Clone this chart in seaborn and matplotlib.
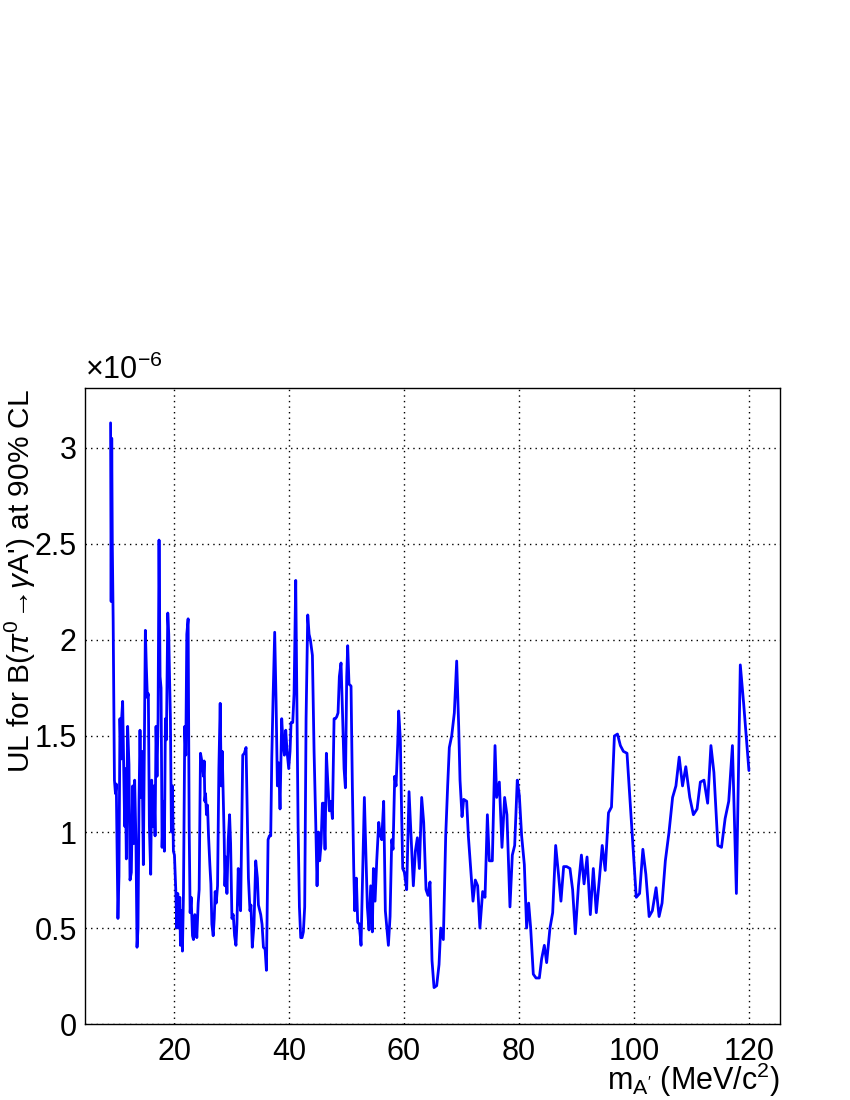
import numpy as np
import pandas as pd
import matplotlib
matplotlib.use("Agg")
import matplotlib.pyplot as plt
import seaborn as sns
from matplotlib.ticker import MultipleLocator

# ==================================================
# DATA (UL in units of 1e-6)
# ==================================================

mass = [
    8.95, 9.05, 9.15, 9.25, 9.40, 9.62, 9.80, 9.94, 10.10, 10.23,
    10.41, 10.58, 10.76, 10.87, 11.05, 11.22, 11.40, 11.51, 11.69, 11.92,
    12.15, 12.33, 12.56, 12.79, 12.97, 13.14, 13.37, 13.55, 13.72, 13.90,
    14.07, 14.24, 14.42, 14.65, 14.83, 15.00, 15.17, 15.35, 15.52, 15.70,
    15.93, 16.10, 16.28, 16.45, 16.57, 16.69, 16.86, 17.03, 17.21, 17.38,
    17.56, 17.73, 17.91, 18.14, 18.31, 18.49, 18.66, 18.90, 19.07, 19.19,
    19.36, 19.53, 19.71, 19.88, 20.06, 20.29, 20.47, 20.64, 20.81, 20.99,
    21.10, 21.28, 21.45, 21.63, 21.86, 22.03, 22.21, 22.44, 22.62, 22.79,
    22.97, 23.20, 23.37, 23.60, 23.78, 23.95, 24.19, 24.36, 24.59, 24.77,
    24.94, 25.12, 25.23, 25.35, 25.47, 25.64, 25.81, 25.99, 26.22, 26.40,
    26.57, 26.80, 26.98, 27.15, 27.33, 27.56, 27.79, 28.02, 28.20, 28.37,
    28.55, 28.72, 28.84, 29.01, 29.19, 29.42, 29.65, 29.83, 30.06, 30.29,
    30.52, 30.76, 30.93, 31.16, 31.34, 31.57, 31.74, 31.94, 32.22, 32.52,
    32.93, 33.20, 33.37, 33.60, 33.90, 34.20, 34.49, 34.67, 35.07, 35.30,
    35.54, 35.83, 36.06, 36.35, 36.58, 36.81, 36.99, 37.22, 37.50, 37.74,
    37.97, 38.20, 38.43, 38.72, 38.96, 39.19, 39.42, 39.65, 39.94, 40.17,
    40.35, 40.64, 40.87, 41.16, 41.33, 41.57, 41.80, 42.03, 42.26, 42.49,
    42.72, 42.96, 43.25, 43.48, 43.71, 44.06, 44.35, 44.64, 44.87, 45.10,
    45.33, 45.57, 45.80, 46.03, 46.26, 46.49, 46.72, 47.01, 47.25, 47.54,
    47.83, 48.06, 48.29, 48.52, 48.75, 49.04, 49.28, 49.57, 49.80, 50.03,
    50.20, 50.43, 50.78, 51.01, 51.25, 51.42, 51.71, 51.94, 52.23, 52.52,
    52.81, 53.10, 53.39, 53.62, 53.91, 54.20, 54.49, 54.67, 54.96, 55.25,
    55.60, 55.83, 56.12, 56.46, 56.75, 57.04, 57.28, 57.57, 57.86, 58.09,
    58.38, 58.61, 58.90, 59.07, 59.36, 59.53, 59.77, 60.06, 60.46, 60.87,
    61.22, 61.62, 61.97, 62.32, 62.67, 63.07, 63.42, 63.83, 64.17, 64.52,
    64.87, 65.22, 65.68, 66.09, 66.38, 66.84, 67.25, 67.59, 67.88, 68.29,
    68.75, 69.16, 69.51, 69.74, 70.09, 70.38, 70.90, 71.19, 71.60, 72.00,
    72.40, 72.81, 73.20, 73.68, 74.09, 74.50, 74.84, 75.36, 75.83, 76.12,
    76.58, 77.04, 77.50, 77.90, 78.43, 78.84, 79.25, 79.70, 80.06, 80.46,
    80.93, 81.33, 81.68, 82.03, 82.49, 82.96, 83.54, 83.94, 84.41, 84.81,
    85.39, 85.86, 86.38, 86.84, 87.30, 87.77, 88.29, 88.87, 89.33, 89.80,
    90.34, 90.86, 91.32, 91.84, 92.41, 92.93, 93.45, 93.97, 94.48, 95.00,
    95.57, 96.09, 96.60, 97.13, 97.64, 98.16, 98.79, 99.37, 99.89, 100.40,
    100.98, 101.55, 102.07, 102.64, 103.20, 103.85, 104.37, 104.89, 105.46, 106.10,
    106.72, 107.30, 107.87, 108.45, 109.02, 109.71, 110.34, 110.98, 111.55, 112.18,
    112.82, 113.39, 113.91, 114.60, 115.23, 115.86, 116.49, 117.13, 117.82, 118.50,
    119.08, 120.00,
]

ul = [
    3.13, 2.20, 3.05, 2.50, 2.10, 1.27, 1.20, 1.25, 0.85, 0.55,
    0.77, 1.59, 1.38, 1.59, 1.68, 1.38, 1.03, 1.33, 0.86, 1.55,
    1.35, 0.75, 0.79, 1.24, 0.94, 1.27, 0.94, 0.40, 0.50, 1.16,
    1.53, 1.18, 1.42, 0.83, 1.44, 2.05, 1.86, 1.70, 1.72, 1.03,
    0.78, 1.27, 1.03, 1.24, 1.16, 0.98, 1.55, 1.29, 1.59, 2.52,
    1.81, 1.75, 0.92, 1.16, 0.90, 1.59, 1.48, 2.14, 2.03, 1.83,
    1.59, 1.00, 1.24, 0.90, 0.88, 0.70, 0.50, 0.68, 0.50, 0.66,
    0.41, 0.59, 0.38, 0.68, 1.55, 1.40, 2.03, 2.11, 1.03, 0.58,
    0.66, 0.46, 0.44, 0.57, 0.55, 0.45, 0.63, 0.70, 1.41, 1.38,
    1.35, 1.29, 1.37, 1.16, 1.20, 1.09, 1.14, 0.98, 0.83, 0.73,
    0.52, 0.46, 0.55, 0.69, 0.63, 0.72, 1.33, 1.67, 1.24, 1.42,
    1.18, 0.96, 0.72, 0.87, 0.68, 0.96, 1.09, 0.94, 0.55, 0.57,
    0.46, 0.41, 0.52, 0.81, 0.68, 0.59, 0.98, 1.40, 1.41, 1.44,
    0.76, 0.59, 0.62, 0.40, 0.52, 0.85, 0.76, 0.62, 0.57, 0.52,
    0.40, 0.39, 0.28, 0.96, 0.98, 0.98, 1.38, 1.70, 2.04, 1.68,
    1.24, 1.36, 1.12, 1.59, 1.46, 1.40, 1.53, 1.42, 1.33, 1.42,
    1.57, 1.57, 1.72, 2.31, 1.77, 1.03, 0.61, 0.45, 0.45, 0.48,
    0.61, 1.59, 2.13, 2.03, 2.00, 1.92, 1.42, 1.05, 0.72, 1.00,
    0.85, 0.94, 1.15, 1.15, 0.91, 1.41, 1.27, 1.11, 1.16, 1.07,
    1.59, 1.59, 1.60, 1.62, 1.81, 1.88, 1.64, 1.33, 1.23, 1.81,
    1.97, 1.77, 1.76, 1.24, 0.81, 0.59, 0.76, 0.53, 0.52, 0.41,
    0.79, 1.18, 0.87, 0.61, 0.49, 0.72, 0.48, 0.81, 0.64, 0.85,
    1.05, 0.99, 0.96, 1.16, 0.59, 0.49, 0.41, 0.56, 0.96, 0.91,
    1.29, 1.24, 1.46, 1.63, 1.48, 1.18, 0.81, 0.79, 0.70, 1.21,
    0.98, 0.72, 0.90, 0.97, 0.81, 1.18, 1.05, 0.70, 0.67, 0.74,
    0.33, 0.19, 0.20, 0.31, 0.50, 0.44, 0.98, 1.24, 1.44, 1.50,
    1.62, 1.89, 1.55, 1.27, 1.08, 1.17, 1.16, 0.98, 0.81, 0.64,
    0.75, 0.72, 0.50, 0.69, 0.66, 1.09, 0.85, 0.85, 1.45, 1.18,
    1.26, 0.92, 1.18, 1.09, 0.61, 0.88, 0.93, 1.27, 1.19, 0.98,
    0.83, 0.50, 0.63, 0.50, 0.26, 0.24, 0.24, 0.34, 0.41, 0.32,
    0.50, 0.58, 0.93, 0.79, 0.64, 0.82, 0.82, 0.81, 0.70, 0.47,
    0.72, 0.88, 0.73, 0.87, 0.57, 0.81, 0.58, 0.75, 0.93, 0.80,
    1.10, 1.13, 1.50, 1.51, 1.45, 1.42, 1.41, 1.14, 0.90, 0.66,
    0.68, 0.91, 0.78, 0.56, 0.59, 0.71, 0.56, 0.63, 0.85, 1.00,
    1.18, 1.24, 1.39, 1.24, 1.34, 1.18, 1.09, 1.12, 1.26, 1.27,
    1.15, 1.45, 1.31, 0.93, 0.92, 1.07, 1.16, 1.45, 0.68, 1.87,
    1.67, 1.32,
]

df = pd.DataFrame({"mass": mass, "ul": ul})

# ==================================================
# STYLE
# ==================================================

sns.set_style("white")
plt.rcParams["font.family"] = ["Liberation Sans", "DejaVu Sans"]
plt.rcParams["mathtext.fontset"] = "custom"
plt.rcParams["mathtext.rm"] = "Liberation Sans"
plt.rcParams["mathtext.it"] = "Liberation Sans:italic"
plt.rcParams["mathtext.sf"] = "Liberation Sans"
for key in ["text.color", "axes.labelcolor", "xtick.color", "ytick.color"]:
    plt.rcParams[key] = "black"

fig = plt.figure(figsize=(8.5, 11), dpi=100)
ax = fig.add_axes([0.1, 0.069, 0.8176, 0.578])

# ==================================================
# PLOT
# ==================================================

sns.lineplot(data=df, x="mass", y="ul", estimator=None, sort=False,
             color="#0000ff", linewidth=2.0, ax=ax)

ax.set_xlim(4.5, 125.4)
ax.set_ylim(0, 3.31)

ax.xaxis.set_major_locator(MultipleLocator(20))
ax.xaxis.set_minor_locator(MultipleLocator(5))
ax.yaxis.set_minor_locator(MultipleLocator(0.1))
ax.set_yticks([0, 0.5, 1, 1.5, 2, 2.5, 3])
ax.set_yticklabels(["0", "0.5", "1", "1.5", "2", "2.5", "3"])

ax.tick_params(axis="both", which="major", direction="in", length=9,
               width=1, labelsize=22, color="black", labelcolor="black")
ax.tick_params(axis="both", which="minor", direction="in", length=5,
               width=1, color="black")
ax.tick_params(axis="x", which="major", pad=9)
ax.tick_params(axis="y", which="major", pad=6)

ax.grid(True, which="major", color="black", linestyle=(0, (1, 3)),
        linewidth=1)

for s in ax.spines.values():
    s.set_color("black")
    s.set_linewidth(1)

ax.set_xlabel(r"m$_{\mathrm{A'}}$ (MeV/c$^{2}$)", fontsize=22, loc="right")
ax.xaxis.set_label_coords(1.0, -0.058)
ax.set_ylabel(r"UL for B($\pi^{0}\!\rightarrow\!\gamma$A') at 90% CL",
              fontsize=21.5, loc="top")
ax.yaxis.set_label_coords(-0.068, 1.0)

ax.text(0.0, 1.004, "×10$^{\\mathrm{-6}}$", transform=ax.transAxes,
        fontsize=22, ha="left", va="bottom")

plt.savefig("out.png", dpi=100)
